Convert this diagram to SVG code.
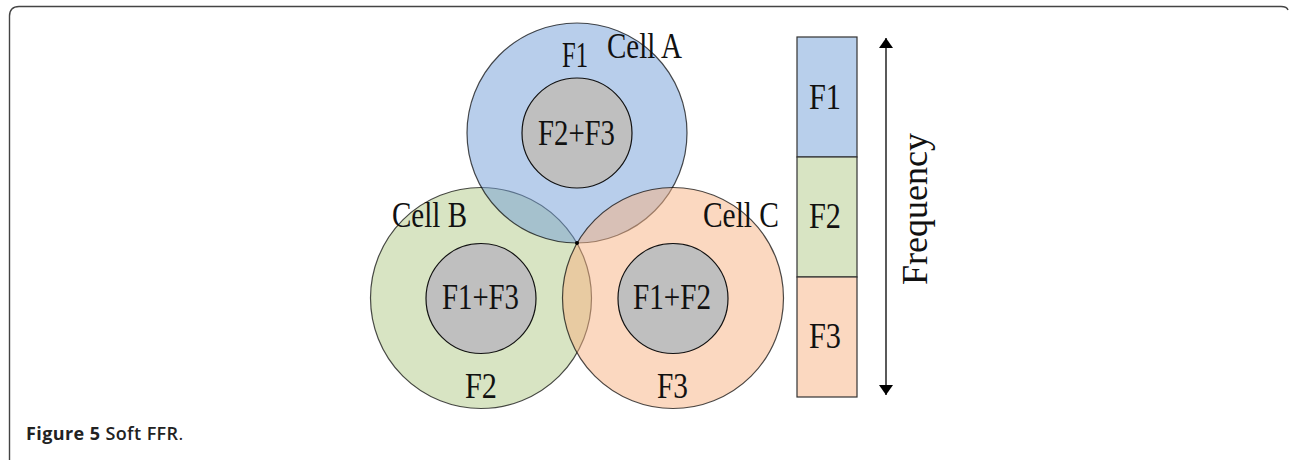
<svg xmlns="http://www.w3.org/2000/svg" width="1290" height="460" viewBox="0 0 1290 460">
  <style>
    .lbl { font-family: "Liberation Serif", "Noto Sans CJK TC", serif; font-size: 35px; fill: #111; }
    .cell { stroke: #000; stroke-width: 1.2; fill-opacity: 0.5; stroke-opacity: 0.7; }
    .core { fill: #bfbfbf; stroke: #111; stroke-width: 1.2; }
    .band { stroke: #333; stroke-width: 1.2; }
    .cap { font-family: "Open Sans", "Noto Sans", sans-serif; font-size: 18px; letter-spacing: 0.4px; fill: #222; }
  </style>
  <defs>
    <marker id="head" viewBox="0 0 10 14" refX="10" refY="7" markerWidth="10" markerHeight="14" markerUnits="userSpaceOnUse" orient="auto">
      <path d="M0,0 L10,7 L0,14 Z" fill="#000"/>
    </marker>
  </defs>

  <rect width="1290" height="460" fill="#fff"/>
  <!-- panel frame -->
  <path d="M9.5,470 V16 Q9.5,6.5 19,6.5 H1281 Q1287,6.5 1288,10" fill="none" stroke="#444" stroke-width="1.4"/>

  <!-- cell coverage areas -->
  <g id="cell-b">
    <circle class="cell" cx="481" cy="298" r="110.5" fill="#b1c987"/>
  </g>
  <g id="cell-a">
    <circle class="cell" cx="577" cy="133" r="110" fill="#719dd7"/>
  </g>
  <g id="cell-c">
    <circle class="cell" cx="673" cy="298" r="110.5" fill="#f7b181"/>
  </g>
  <circle cx="577" cy="243" r="2" fill="#000"/>

  <g id="core-a">
    <circle class="core" cx="577" cy="133" r="55"/>
    <text class="lbl" x="538" y="145" textLength="77" lengthAdjust="spacingAndGlyphs">F2+F3</text>
  </g>
  <g id="core-b">
    <circle class="core" cx="481" cy="298.5" r="55"/>
    <text class="lbl" x="442" y="309" textLength="77" lengthAdjust="spacingAndGlyphs">F1+F3</text>
  </g>
  <g id="core-c">
    <circle class="core" cx="673" cy="298.5" r="55"/>
    <text class="lbl" x="633" y="309" textLength="78" lengthAdjust="spacingAndGlyphs">F1+F2</text>
  </g>

  <g id="labels">
    <text class="lbl" x="607" y="58" textLength="75" lengthAdjust="spacingAndGlyphs">Cell A</text>
    <text class="lbl" x="562" y="67" textLength="26" lengthAdjust="spacingAndGlyphs">F1</text>
    <text class="lbl" x="392" y="227" textLength="75" lengthAdjust="spacingAndGlyphs">Cell B</text>
    <text class="lbl" x="465" y="398" textLength="32" lengthAdjust="spacingAndGlyphs">F2</text>
    <text class="lbl" x="703" y="227" textLength="76" lengthAdjust="spacingAndGlyphs">Cell C</text>
    <text class="lbl" x="657" y="398" textLength="31" lengthAdjust="spacingAndGlyphs">F3</text>
  </g>

  <!-- frequency bands -->
  <g id="band-f1">
    <rect class="band" x="797" y="37" width="60" height="120" fill="#b8cfeb"/>
    <text class="lbl" x="809" y="109" textLength="32" lengthAdjust="spacingAndGlyphs">F1</text>
  </g>
  <g id="band-f2">
    <rect class="band" x="797" y="157" width="60" height="120" fill="#d8e4c3"/>
    <text class="lbl" x="809" y="228" textLength="32" lengthAdjust="spacingAndGlyphs">F2</text>
  </g>
  <g id="band-f3">
    <rect class="band" x="797" y="277" width="60" height="120" fill="#fbd8c0"/>
    <text class="lbl" x="809" y="348" textLength="32" lengthAdjust="spacingAndGlyphs">F3</text>
  </g>

  <g id="connectors">
    <line x1="886" y1="216" x2="886" y2="38" stroke="#000" stroke-width="1.3" marker-end="url(#head)"/>
    <line x1="886" y1="216" x2="886" y2="395" stroke="#000" stroke-width="1.3" marker-end="url(#head)"/>
  </g>
  <text class="lbl" x="0" y="0" text-anchor="middle" transform="translate(927,209) rotate(-90)" textLength="152" lengthAdjust="spacingAndGlyphs">Frequency</text>

  <text class="cap" x="26" y="440"><tspan font-weight="bold">Figure 5</tspan> <tspan font-weight="600">Soft FFR</tspan>.</text>
</svg>
